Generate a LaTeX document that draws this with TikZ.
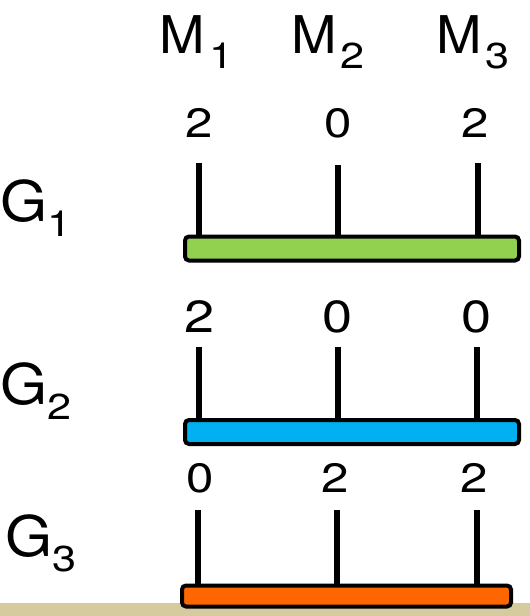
\documentclass[tikz,border=0pt]{standalone}
\usepackage{fontspec}
\setmainfont{TeX Gyre Heros}
\definecolor{barG}{RGB}{146,208,80}
\definecolor{barB}{RGB}{0,176,240}
\definecolor{barO}{RGB}{255,102,0}
\definecolor{ground}{RGB}{213,203,158}
\newcommand{\wide}[1]{\scalebox{1.2}[1]{#1}}
\newcommand{\sub}[1]{\raisebox{-15pt}{\fontsize{36}{36}\selectfont\wide{#1}}}
\newcommand{\mname}[2]{\scalebox{1.05}[1]{M}\kern#1\sub{#2}}
\newcommand{\gname}[1]{\scalebox{1.08}[1]{G}\sub{#1}}
\begin{document}
\begin{tikzpicture}[x=1pt,y=-1pt,
  mhead/.style={font=\fontsize{52}{52}\selectfont, inner sep=0pt, anchor=base west},
  ghead/.style={font=\fontsize{56}{56}\selectfont, inner sep=0pt, anchor=base west},
  val/.style={font=\fontsize{41}{41}\selectfont, inner sep=0pt, anchor=base},
  bigval/.style={val, font=\fontsize{45}{45}\selectfont},
  bar/.style={draw, line width=4pt, rounded corners=4pt, minimum width=334pt, minimum height=24pt, inner sep=0pt},
  tick/.style={line width=6pt}]
\useasboundingbox (0,0) rectangle (530,616);
\fill[ground] (0,603) rectangle (530,616);
% machines
\node[mhead] (m1) at (159,53) {\mname{5pt}{1}};
\node[mhead] (m2) at (291,53) {\mname{4pt}{2}};
\node[mhead] (m3) at (436,53) {\mname{4pt}{3}};
% groups
\node[ghead] (g1) at (0,221) {\gname{1}};
\node[ghead] (g2) at (0,404) {\gname{2}};
\node[ghead] (g3) at (5,556) {\gname{3}};
% bars
\node[bar, fill=barG] (bar1) at (352,248.5) {};
\node[bar, fill=barB] (bar2) at (352,432) {};
\node[bar, fill=barO, minimum width=329pt, minimum height=21pt] (bar3) at (346.5,596) {};
% values
\node[val] (v11) at (199.5,137) {\wide{2}};
\node[val] (v12) at (338,137) {\wide{0}};
\node[val] (v13) at (475,137) {\wide{2}};
\node[bigval] (v21) at (200,332) {\wide{2}};
\node[bigval] (v22) at (338,332) {\wide{0}};
\node[bigval] (v23) at (477,332) {\wide{0}};
\node[val] (v31) at (200,492) {\wide{0}};
\node[val] (v32) at (335,492) {\wide{2}};
\node[val] (v33) at (474,492) {\wide{2}};
% ticks
\coordinate (t11) at (199,163);
\coordinate (t12) at (338,165);
\coordinate (t13) at (478,163);
\coordinate (t21) at (199,347);
\coordinate (t22) at (338,347);
\coordinate (t23) at (477,347);
\coordinate (t31) at (198,510);
\coordinate (t32) at (337,510);
\coordinate (t33) at (477,510);
\draw[tick] (t11) -- (t11 |- bar1.north);
\draw[tick] (t12) -- (t12 |- bar1.north);
\draw[tick] (t13) -- (t13 |- bar1.north);
\draw[tick] (t21) -- (t21 |- bar2.north);
\draw[tick] (t22) -- (t22 |- bar2.north);
\draw[tick] (t23) -- (t23 |- bar2.north);
\draw[tick] (t31) -- (t31 |- bar3.north);
\draw[tick] (t32) -- (t32 |- bar3.north);
\draw[tick] (t33) -- (t33 |- bar3.north);
\end{tikzpicture}
\end{document}
